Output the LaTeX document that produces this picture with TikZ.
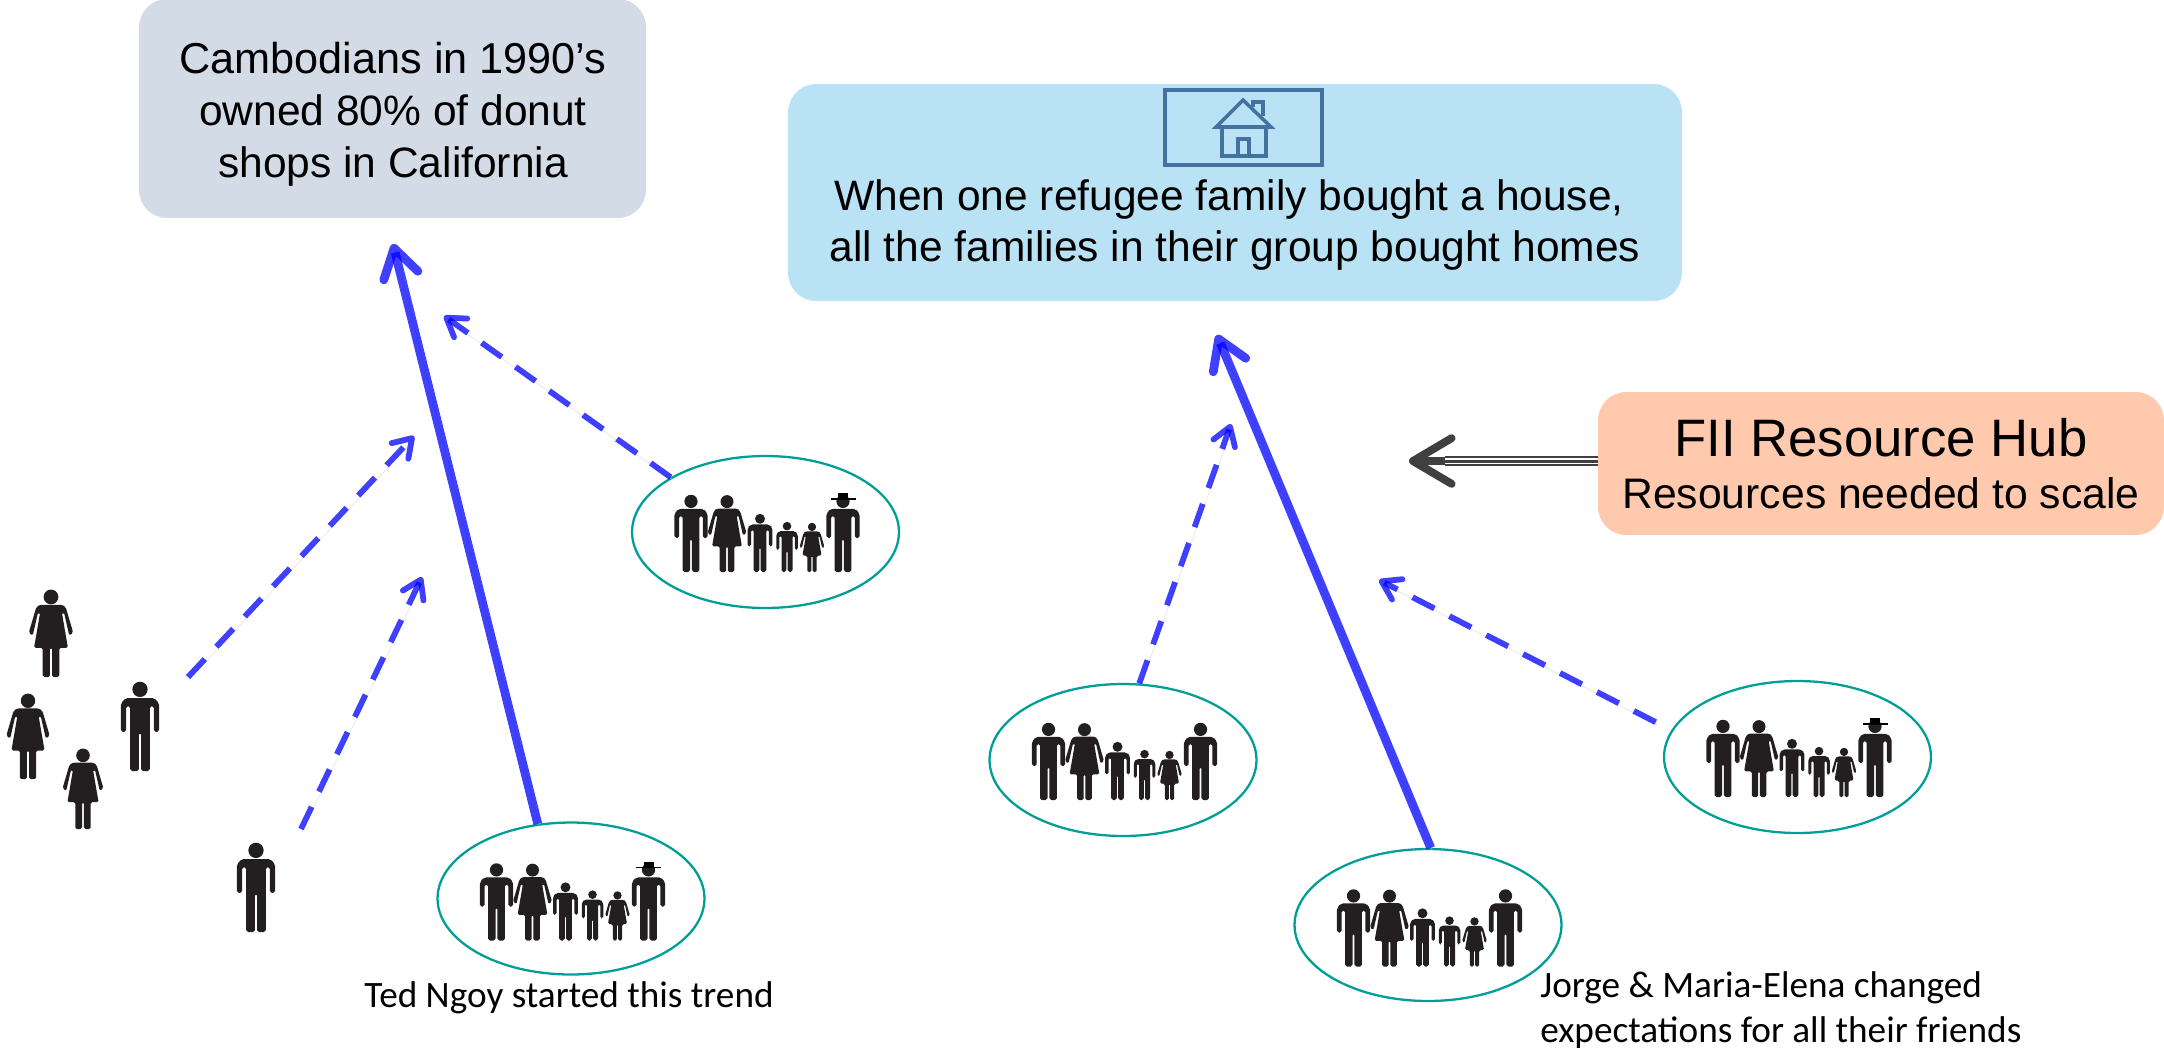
\documentclass[tikz,border=0pt]{standalone}
\usepackage{fontspec}
\setmainfont{Liberation Sans}
\newfontfamily\calibrifont{Carlito}
\usetikzlibrary{arrows.meta, shapes.geometric, positioning, calc}
\definecolor{arrowblue}{RGB}{0, 0, 255}
\definecolor{ringteal}{RGB}{0, 158, 150}
\definecolor{figblack}{RGB}{35, 31, 32}
\definecolor{iconblue}{RGB}{68, 114, 160}
\definecolor{donutbg}{RGB}{211, 219, 230}
\definecolor{housebg}{RGB}{185, 226, 245}
\definecolor{hubbg}{RGB}{255, 201, 174}
\tikzset{
  man/.pic={
    \fill[figblack] (0,8.3) circle[radius=8.6];
    \fill[figblack, rounded corners=1.1pt] (-16,18) -- (16,18) -- (21.5,24) -- (21.5,56) -- (15.5,56) -- (15.5,27) -- (11,27) -- (11,100) -- (1.2,100) -- (1.2,57) -- (-1.2,57) -- (-1.2,100) -- (-11,100) -- (-11,27) -- (-15.5,27) -- (-15.5,56) -- (-21.5,56) -- (-21.5,24) -- cycle;
  },
  woman/.pic={
    \fill[figblack] (0,8) circle[radius=8.5];
    \fill[figblack, rounded corners=0.9pt] (-13,17) -- (13,17) -- (17,20) -- (25.5,49) -- (21,52.5) -- (15,26) -- (12.5,26) -- (19.5,66.5) -- (9.5,66.5) -- (9.5,100) -- (1.2,100) -- (1.2,66.5) -- (-1.2,66.5) -- (-1.2,100) -- (-9.5,100) -- (-9.5,66.5) -- (-19.5,66.5) -- (-12.5,26) -- (-15,26) -- (-21,52.5) -- (-25.5,49) -- (-17,20) -- cycle;
  },
  family/.pic={
    \pic[scale=0.77] at (-74.5,-37) {man};
    \pic[scale=0.765] at (-38.5,-36.5) {woman};
    \pic[scale=0.58] at (-5.5,-18) {man};
    \pic[scale=0.50] at (21.5,-10) {man};
    \pic[scale=0.49] at (46.5,-9) {woman};
    \pic[scale=0.77] at (77.5,-37) {man};
  },
  hatfamily/.pic={
    \pic at (0,0) {family};
    \fill[black] (65,-33.8) rectangle (90,-32.4);
    \fill[black] (72.5,-39) rectangle (82.5,-33);
  },
  ring/.style={draw=ringteal, line width=1.3pt, ellipse, minimum width=5.34cm, minimum height=3.04cm, inner sep=0pt},
  infobox/.style={rounded corners=16pt, inner sep=0pt, align=center},
  bigtext/.style={font=\fontsize{24.2}{29.5}\selectfont},
  smalltext/.style={font=\calibrifont\fontsize{21.2}{25.5}\selectfont, align=left},
  solidarrow/.style={-{Straight Barb[round, length=16pt, width=20pt]}, line width=5pt, draw=arrowblue, draw opacity=0.75, preaction={draw=black!20, draw opacity=0.5, transform canvas={shift={(0.8pt,-1.3pt)}}}},
  dasharrow/.style={-{Straight Barb[round, length=10pt, width=13pt]}, line width=3.3pt, dash pattern=on 14pt off 9.6pt, draw=arrowblue, draw opacity=0.75, preaction={draw=black!20, draw opacity=0.5, transform canvas={shift={(0.8pt,-1.3pt)}}}},
}

\begin{document}
\begin{tikzpicture}[x=0.02cm, y=-0.02cm]
  \useasboundingbox (0,0) rectangle (2164,1052);

  % Top boxes
  \node[infobox, fill=donutbg, minimum width=10.14cm, minimum height=4.38cm] (donut) at (392.5,108.5) {};
  \node[bigtext, align=center, inner sep=0pt] (donuttext) at (393,114) {\fontsize{24.6}{29.5}\selectfont Cambodians in 1990's\\owned 80\% of donut\\shops in California};
  \node[infobox, fill=housebg, minimum width=17.88cm, minimum height=4.34cm] (house) at (1235,192.5) {};
  \node[bigtext, align=center, inner sep=0pt] (housetext) at (1235,225) {When one refugee family bought a house,~\hbox{}\\all the families in their group bought homes};
  \node[infobox, fill=hubbg, minimum width=11.32cm, minimum height=2.86cm] (hub) at (1881,463.5) {{\fontsize{30}{34}\selectfont FII Resource Hub}\\[11pt]{\fontsize{24.3}{29}\selectfont Resources needed to scale}};

  % House icon
  \draw[iconblue, line width=2.2pt] (1165,90) rectangle (1322,165);
  \draw[iconblue, line width=2pt] (1216,127) -- (1243,100) -- (1271,127) -- cycle;
  \draw[iconblue, line width=2pt] (1222,127) -- (1222,156) -- (1266,156) -- (1266,127);
  \draw[iconblue, line width=2pt] (1238,156) -- (1238,139) -- (1249,139) -- (1249,156);
  \draw[iconblue, line width=2pt] (1253,107) -- (1253,102) -- (1263,102) -- (1263,116);

  % Families
  \node[ring] (leftfam) at (765.5,532) {};
  \node[ring] (tedfam) at (571,898.5) {};
  \node[ring] (midfam) at (1123,760) {};
  \node[ring] (jorgefam) at (1428,925) {};
  \node[ring] (rightfam) at (1797.5,757) {};
  \pic at (leftfam.center) {hatfamily};
  \pic at ($(tedfam.center)+(0,2)$) {hatfamily};
  \pic at (midfam.center) {family};
  \pic at ($(jorgefam.center)+(0,1.5)$) {family};
  \pic at (rightfam.center) {hatfamily};

  % Single people
  \pic[scale=0.87] at (51,590) {woman};
  \pic[scale=0.85] at (28,694) {woman};
  \pic[scale=0.80] at (83,749) {woman};
  \pic[scale=0.89] at (140,682) {man};
  \pic[scale=0.89] at (256,843) {man};

  % Arrow ends
  \coordinate (donuttip) at (393,244);
  \coordinate (lefttip) at (444,316);
  \coordinate (grouptip) at (414,436);
  \coordinate (singletip) at (422,577);
  \coordinate (grouptail) at (188,677);
  \coordinate (singletail) at (301,829);
  \coordinate (housetip) at (1217,335);
  \coordinate (midtip) at (1231,424);
  \coordinate (righttip) at (1379,580);
  \coordinate (hubtip) at (1409,461);
  \coordinate (hubneck) at (1445,461);
  \coordinate (hubtail) at (1598,461);

  % Arrows
  \draw[solidarrow] (tedfam.114) -- (donuttip);
  \draw[dasharrow] (leftfam.150) -- (lefttip);
  \draw[dasharrow] (grouptail) -- (grouptip);
  \draw[dasharrow] (singletail) -- (singletip);
  \draw[solidarrow] (jorgefam.88) -- (housetip);
  \draw[dasharrow] (midfam.78) -- (midtip);
  \draw[dasharrow, shorten <=10pt] (rightfam.168) -- (righttip);

  % Hub arrow
  \draw[line width=0.9pt, draw=black!75, double=white, double distance=3.6pt] (hubtail) -- (hubneck);
  \draw[line width=1.7pt, draw=black!75] (hubtail) -- (hubneck);
  \draw[-{Straight Barb[round, length=22pt, width=26pt]}, line width=4.5pt, draw=black!75] (hubneck) -- (hubtip);

  % Labels
  \node[smalltext, inner sep=0pt] (tedlabel) at (569,998) {Ted Ngoy started this trend};
  \node[smalltext, inner sep=0pt, anchor=west] (jorgelabel) at (1540,1010) {Jorge \& Maria-Elena changed\\expectations for all their friends};
\end{tikzpicture}
\end{document}
